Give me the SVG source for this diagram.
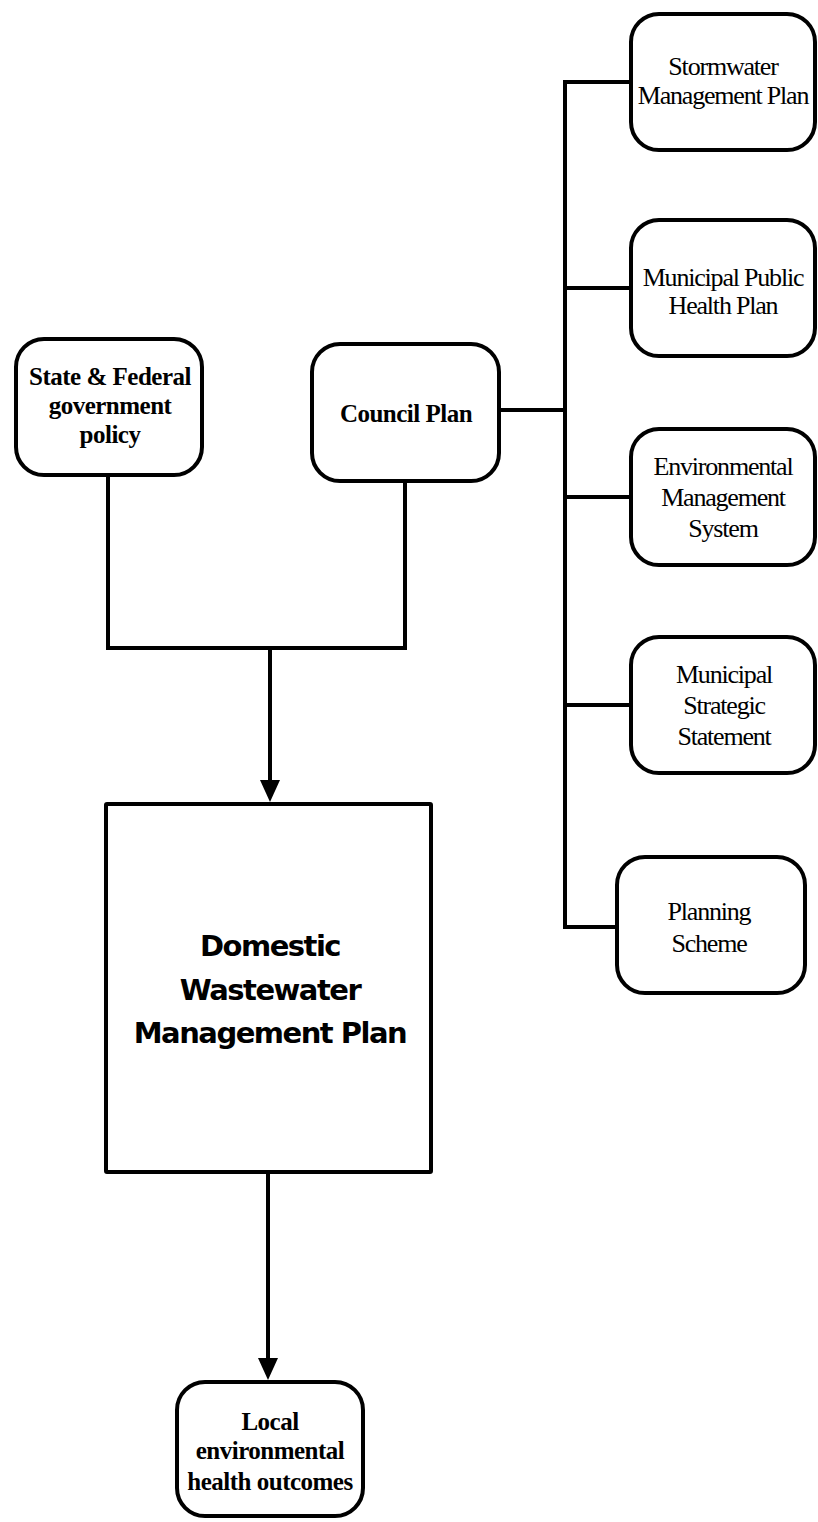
<svg xmlns="http://www.w3.org/2000/svg" width="818" height="1522" viewBox="0 0 818 1522">
<style>
.box{fill:#fff;stroke:#000;stroke-width:4}
.ln{fill:none;stroke:#000;stroke-width:4;stroke-linejoin:miter}
.t{font-family:"Liberation Serif","Times New Roman",serif;font-size:26px;text-anchor:middle;fill:#000;letter-spacing:-1.2px}
.b{font-weight:bold;font-size:25px;letter-spacing:-0.5px}
.big{font-family:"DejaVu Sans",Tahoma,Verdana,sans-serif;font-weight:bold;font-size:29px;text-anchor:middle;fill:#000;letter-spacing:-1.5px}
</style>
<defs>
<marker id="arr" viewBox="0 0 22 20" refX="4" refY="10" markerWidth="22" markerHeight="20" markerUnits="userSpaceOnUse" orient="auto">
<path d="M0,0 L22,10 L0,20 z" fill="#000"/>
</marker>
</defs>
<rect width="818" height="1522" fill="#fff"/>
<g id="connectors">
<path class="ln" d="M631,82 H565 V927 H617"/>
<path class="ln" d="M565,288 H631"/>
<path class="ln" d="M565,497 H631"/>
<path class="ln" d="M565,705 H631"/>
<path class="ln" d="M499,410 H565"/>
<path class="ln" d="M108,475 V648 H405 V481"/>
<path class="ln" d="M270,648 V784" marker-end="url(#arr)"/>
<path class="ln" d="M268,1172 V1362" marker-end="url(#arr)"/>
</g>
<g id="state">
<rect class="box" x="16" y="339" width="186" height="136" rx="28"/>
<text class="t b" x="110" y="385">State &amp; Federal</text>
<text class="t b" x="110" y="414">government</text>
<text class="t b" x="110" y="443">policy</text>
</g>
<g id="council">
<rect class="box" x="312" y="344" width="187" height="137" rx="28"/>
<text class="t b" x="406" y="422">Council Plan</text>
</g>
<g id="stormwater">
<rect class="box" x="631" y="14" width="184" height="136" rx="28"/>
<text class="t" x="723" y="75">Stormwater</text>
<text class="t" x="723" y="104">Management Plan</text>
</g>
<g id="publichealth">
<rect class="box" x="631" y="220" width="184" height="136" rx="28"/>
<text class="t" x="723" y="286">Municipal Public</text>
<text class="t" x="723" y="314">Health Plan</text>
</g>
<g id="ems">
<rect class="box" x="631" y="429" width="184" height="136" rx="28"/>
<text class="t" x="723" y="475">Environmental</text>
<text class="t" x="723" y="506">Management</text>
<text class="t" x="723" y="537">System</text>
</g>
<g id="mss">
<rect class="box" x="631" y="637" width="184" height="136" rx="28"/>
<text class="t" x="724" y="683">Municipal</text>
<text class="t" x="724" y="714">Strategic</text>
<text class="t" x="724" y="745">Statement</text>
</g>
<g id="planning">
<rect class="box" x="617" y="857" width="188" height="136" rx="28"/>
<text class="t" x="709" y="920">Planning</text>
<text class="t" x="709" y="952">Scheme</text>
</g>
<g id="dwmp">
<rect class="box" x="106" y="804" width="325" height="368" rx="1"/>
<text class="big" x="270" y="956">Domestic</text>
<text class="big" x="270" y="1000">Wastewater</text>
<text class="big" x="270" y="1043">Management Plan</text>
</g>
<g id="local">
<rect class="box" x="177" y="1382" width="186" height="134" rx="28"/>
<text class="t b" x="270" y="1430">Local</text>
<text class="t b" x="270" y="1459">environmental</text>
<text class="t b" x="270" y="1490">health outcomes</text>
</g>
</svg>
